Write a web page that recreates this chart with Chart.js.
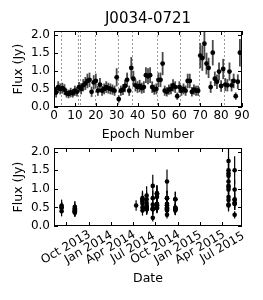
<!DOCTYPE html>
<html>
<head>
<meta charset="utf-8">
<script src="https://cdn.jsdelivr.net/npm/chart.js@4.4.1/dist/chart.umd.min.js"></script>
<style>
body { margin: 0; background: #fff; }
#wrap { position: relative; width: 263px; height: 300px; }
#top { position: absolute; left: 0; top: 0; }
#bottom { position: absolute; left: 0; top: 140px; }
</style>
</head>
<body>
<div id="wrap">
<canvas id="top" width="263" height="150"></canvas>
<canvas id="bottom" width="263" height="160"></canvas>
</div>
<script>
// flux per epoch (epoch number = index)
var fluxValues = [
    0.50, 0.40, 0.55, 0.50,
    0.52, 0.48, 0.38, 0.36, 0.40, 0.38, 0.45, 0.42,
    0.55,
    0.50, 0.60, 0.65, 0.72, 0.75, 0.42, 0.68,
    0.72, 0.45, 0.62, 0.45, 0.50, 0.55, 0.52, 0.50, 0.48, 0.45, 0.82,
    0.22, 0.45, 0.48, 0.58, 0.75, 0.45, 1.08,
    0.78, 0.60, 0.55, 0.58, 0.52, 0.55, 0.88, 0.85, 0.88, 0.55, 0.48, 0.50,
    0.75, 0.75, 1.20, 0.45, 0.42, 0.48, 0.50, 0.60, 0.55, 0.30, 0.55,
    0.45, 0.50, 0.45, 0.72, 0.72, 0.42, 0.48, 0.45, 0.45,
    1.42, 1.35, 1.75, 1.20, 1.08, 0.55, 1.50, 0.78, 0.70, 0.98, 0.58, 1.05,
    0.62, 0.60, 0.98, 0.60, 0.72, 0.30, 0.70, 1.50
];
var fluxErrors = [
    0.15, 0.14, 0.16, 0.15,
    0.15, 0.15, 0.12, 0.12, 0.13, 0.12, 0.14, 0.13,
    0.14,
    0.15, 0.17, 0.18, 0.20, 0.20, 0.14, 0.20,
    0.20, 0.14, 0.18, 0.14, 0.15, 0.16, 0.15, 0.15, 0.14, 0.14, 0.25,
    0.10, 0.14, 0.15, 0.17, 0.20, 0.14, 0.30,
    0.22, 0.17, 0.16, 0.17, 0.15, 0.16, 0.22, 0.22, 0.22, 0.16, 0.14, 0.15,
    0.20, 0.20, 0.32, 0.14, 0.13, 0.14, 0.15, 0.17, 0.16, 0.10, 0.16,
    0.14, 0.15, 0.14, 0.20, 0.20, 0.13, 0.14, 0.14, 0.14,
    0.35, 0.35, 0.40, 0.30, 0.28, 0.16, 0.35, 0.20, 0.20, 0.25, 0.16, 0.28,
    0.18, 0.17, 0.25, 0.17, 0.20, 0.10, 0.20, 0.38
];
// observing blocks: first epoch of each block and its date
var groupFirstEpoch = [0, 4, 12, 13, 20, 31, 38, 50, 61, 70, 82];
var groupDates = ['2013-09-13', '2013-11-06', '2014-07-14', '2014-08-09', '2014-08-26',
    '2014-09-20', '2014-10-07', '2014-11-17', '2014-12-21', '2015-07-26', '2015-08-20'];

var epochTicks = [0, 10, 20, 30, 40, 50, 60, 70, 80, 90];
var fluxTicks = [0, 0.5, 1, 1.5, 2];
var dateTicks = ['2013-10-01', '2014-01-01', '2014-04-01', '2014-07-01',
    '2014-10-01', '2015-01-01', '2015-04-01', '2015-07-01'];
var dateTickLabels = ['Oct 2013', 'Jan 2014', 'Apr 2014', 'Jul 2014',
    'Oct 2014', 'Jan 2015', 'Apr 2015', 'Jul 2015'];
var dateMin = '2013-08-13';
var dateMax = '2015-09-19';

function toDay(s) {
    return Date.parse(s) / 86400000;
}

function groupOf(epoch) {
    var g = 0;
    for (var i = 0; i < groupFirstEpoch.length; i++) {
        if (epoch >= groupFirstEpoch[i]) g = i;
    }
    return g;
}

var topPoints = fluxValues.map(function(v, i) { return { x: i, y: v }; });
var bottomPoints = fluxValues.map(function(v, i) { return { x: toDay(groupDates[groupOf(i)]), y: v }; });
var blockEdges = groupFirstEpoch.slice(1).map(function(e) { return e - 0.5; });

Chart.defaults.font.family = 'DejaVu Sans';
Chart.defaults.font.size = 12;
Chart.defaults.color = '#000';

var axesPlugin = {
    id: 'axesDecor',
    beforeDatasetsDraw: function(chart, args, opts) {
        var ctx = chart.ctx, a = chart.chartArea;
        var xs = chart.scales.x, ys = chart.scales.y;
        ctx.save();
        ctx.beginPath();
        ctx.rect(a.left, a.top, a.right - a.left, a.bottom - a.top);
        ctx.clip();
        if (opts.edges) {
            ctx.strokeStyle = '#999';
            ctx.lineWidth = 1;
            ctx.setLineDash([2, 2]);
            opts.edges.forEach(function(e) {
                var x = Math.round(xs.getPixelForValue(e)) + 0.5;
                ctx.beginPath();
                ctx.moveTo(x, a.top);
                ctx.lineTo(x, a.bottom);
                ctx.stroke();
            });
            ctx.setLineDash([]);
        }
        var ds = chart.data.datasets[0];
        ctx.strokeStyle = opts.barColor;
        ctx.lineWidth = opts.barWidth;
        ds.data.forEach(function(p, i) {
            var x = xs.getPixelForValue(p.x);
            ctx.beginPath();
            ctx.moveTo(x, ys.getPixelForValue(p.y - ds.errors[i]));
            ctx.lineTo(x, ys.getPixelForValue(p.y + ds.errors[i]));
            ctx.stroke();
        });
        ctx.restore();
    },
    afterDraw: function(chart, args, opts) {
        var ctx = chart.ctx, a = chart.chartArea;
        var xs = chart.scales.x, ys = chart.scales.y;
        ctx.save();
        ctx.strokeStyle = '#000';
        ctx.lineWidth = 1;
        ctx.strokeRect(a.left + 0.5, a.top + 0.5, a.right - a.left - 1, a.bottom - a.top - 1);
        ctx.beginPath();
        xs.ticks.forEach(function(t) {
            var x = Math.round(xs.getPixelForValue(t.value)) + 0.5;
            ctx.moveTo(x, a.bottom); ctx.lineTo(x, a.bottom - 4);
            ctx.moveTo(x, a.top); ctx.lineTo(x, a.top + 4);
        });
        ys.ticks.forEach(function(t) {
            var y = Math.round(ys.getPixelForValue(t.value)) + 0.5;
            ctx.moveTo(a.left, y); ctx.lineTo(a.left + 4, y);
            ctx.moveTo(a.right, y); ctx.lineTo(a.right - 4, y);
        });
        ctx.stroke();
        ctx.fillStyle = '#000';
        if (opts.title) {
            ctx.font = '15px "DejaVu Sans"';
            ctx.textAlign = 'center';
            ctx.textBaseline = 'middle';
            ctx.fillText(opts.title, (a.left + a.right) / 2, 19.5);
        }
        if (opts.labels) {
            ctx.font = '12px "DejaVu Sans"';
            ctx.textAlign = 'center';
            ctx.textBaseline = 'middle';
            xs.ticks.forEach(function(t, i) {
                ctx.save();
                ctx.translate(xs.getPixelForValue(t.value), a.bottom + 21.5);
                ctx.rotate(-Math.PI / 6);
                ctx.fillText(opts.labels[i], 0, 0);
                ctx.restore();
            });
        }
        ctx.restore();
    }
};

function yAxis() {
    return {
        min: 0,
        max: 2.1,
        grid: { display: false, drawTicks: false },
        border: { display: false },
        afterBuildTicks: function(s) { s.ticks = fluxTicks.map(function(v) { return { value: v }; }); },
        ticks: { padding: 4, callback: function(v) { return v.toFixed(1); } },
        title: { display: true, text: 'Flux (Jy)', font: { size: 12.5 }, padding: { top: 11, bottom: 0 } },
        afterFit: function(s) { s.width = 54; s.paddingTop = 0; s.paddingBottom = 0; }
    };
}

new Chart(document.getElementById('top'), {
    type: 'scatter',
    data: {
        datasets: [{
            data: topPoints,
            errors: fluxErrors,
            backgroundColor: '#000',
            borderWidth: 0,
            pointRadius: 2.4
        }]
    },
    options: {
        responsive: false,
        animation: false,
        layout: { padding: { left: 0, right: 21, top: 31, bottom: 0 } },
        plugins: {
            legend: { display: false },
            tooltip: { enabled: false },
            axesDecor: { title: 'J0034-0721', edges: blockEdges, barColor: '#4a4a4a', barWidth: 1.8 }
        },
        scales: {
            x: {
                type: 'linear',
                min: 0,
                max: 90,
                grid: { display: false, drawTicks: false },
                border: { display: false },
                afterBuildTicks: function(s) { s.ticks = epochTicks.map(function(v) { return { value: v }; }); },
                ticks: { padding: 2, maxRotation: 0 },
                title: { display: true, text: 'Epoch Number', font: { size: 12.5 }, padding: { top: 0, bottom: 8 } },
                afterFit: function(s) { s.height = 43; s.paddingLeft = 0; s.paddingRight = 0; }
            },
            y: yAxis()
        }
    },
    plugins: [axesPlugin]
});

new Chart(document.getElementById('bottom'), {
    type: 'scatter',
    data: {
        datasets: [{
            data: bottomPoints,
            errors: fluxErrors,
            backgroundColor: '#000',
            borderWidth: 0,
            pointRadius: 2.3
        }]
    },
    options: {
        responsive: false,
        animation: false,
        layout: { padding: { left: 0, right: 21, top: 8, bottom: 0 } },
        plugins: {
            legend: { display: false },
            tooltip: { enabled: false },
            axesDecor: { barColor: '#000', barWidth: 1.2, labels: dateTickLabels }
        },
        scales: {
            x: {
                type: 'linear',
                min: toDay(dateMin),
                max: toDay(dateMax),
                grid: { display: false, drawTicks: false },
                border: { display: false },
                afterBuildTicks: function(s) { s.ticks = dateTicks.map(function(d) { return { value: toDay(d) }; }); },
                ticks: { display: false },
                title: { display: true, text: 'Date', font: { size: 12.5 }, padding: { top: 0, bottom: 13.5 } },
                afterFit: function(s) { s.height = 74; s.paddingLeft = 0; s.paddingRight = 0; }
            },
            y: yAxis()
        }
    },
    plugins: [axesPlugin]
});
</script>
</body>
</html>
